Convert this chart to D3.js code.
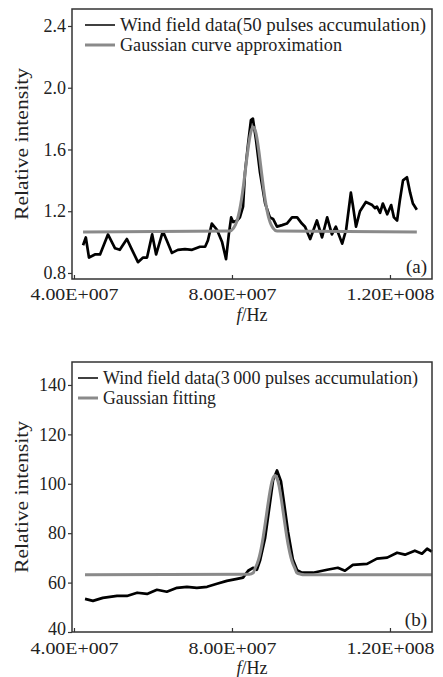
<!DOCTYPE html>
<html>
<head>
<meta charset="utf-8">
<script src="https://cdn.jsdelivr.net/npm/d3@7"></script>
<style>
  body { margin: 0; background: #fff; }
  svg { display: block; }
  svg text { font-family: "Liberation Serif", "Times New Roman", serif; }
</style>
</head>
<body>
<div id="chart"></div>
<script>
// Shared axis ticks
const xTicks = [4e7, 8e7, 1.2e8];
const yTicksA = [0.8, 1.2, 1.6, 2.0, 2.4];
const yTicksB = [40, 60, 80, 100, 120, 140];

// Panel (a): 50 pulses accumulation (frequency in MHz)
const freqA = [42.3, 43.0, 43.8, 45.3, 46.6, 48.6, 50.4, 51.6, 53.4, 54.7, 56.2, 57.5, 58.5, 59.8, 60.8,
    62.5, 63.5, 64.8, 66.3, 68.1, 69.9, 71.9, 73.2, 73.9, 74.9, 76.2, 77.5, 78.5, 79.2, 79.8, 80.3,
    81.3, 82.0, 82.8, 83.3, 84.1, 84.8, 85.3, 86.1, 87.1, 88.4, 89.6, 90.4, 91.4, 92.7, 93.9, 95.2,
    96.5, 97.7, 98.5, 99.8, 101.5, 102.8, 104.1, 105.3, 106.3, 107.9, 108.9, 110.1, 110.6, 111.4,
    112.4, 113.9, 115.5, 116.2, 116.7, 117.5, 118.2, 119.3, 120.3, 121.0, 121.8, 122.5, 123.3, 124.3,
    125.1, 125.8, 126.8];
const windA = [0.98, 1.03, 0.90, 0.92, 0.92, 1.05, 0.96, 0.95, 1.02, 0.95, 0.87, 0.90, 0.90, 1.05, 0.92,
    1.07, 1.01, 0.93, 0.95, 0.955, 0.95, 0.97, 0.97, 1.01, 1.12, 1.08, 1.00, 0.89, 1.05, 1.16, 1.13,
    1.14, 1.16, 1.23, 1.45, 1.64, 1.79, 1.80, 1.66, 1.45, 1.25, 1.16, 1.15, 1.10, 1.11, 1.12, 1.16,
    1.16, 1.12, 1.10, 1.02, 1.14, 1.03, 1.16, 1.05, 1.10, 0.99, 1.08, 1.32, 1.24, 1.10,
    1.20, 1.26, 1.24, 1.22, 1.23, 1.19, 1.25, 1.18, 1.24, 1.16, 1.14, 1.27, 1.40, 1.42,
    1.32, 1.25, 1.21];
const fitFreqA = [42.3, 79.4, 80.4, 80.9, 81.4, 81.9, 82.4, 82.9, 83.4, 83.9, 84.4, 84.9, 85.4,
    85.9, 86.4, 86.9, 87.4, 87.9, 88.4, 88.9, 89.4, 89.9, 90.4, 91.4, 126.8];
const fitA = [1.066, 1.072, 1.091, 1.113, 1.149, 1.202, 1.274, 1.365, 1.468, 1.572, 1.662, 1.724, 1.746,
    1.724, 1.662, 1.572, 1.468, 1.365, 1.274, 1.202, 1.149, 1.113, 1.091, 1.072, 1.066];

// Panel (b): 3000 pulses accumulation (frequency in MHz)
const freqB = [42.8, 44.8, 47.3, 50.9, 53.4, 56.0, 58.5, 61.0, 63.5, 66.1, 68.6, 71.1, 73.7, 76.2,
    78.7, 81.3, 82.8, 84.1, 85.3, 86.3, 87.1, 88.4, 89.6, 90.4, 91.4, 92.4, 93.2, 94.2, 95.4, 96.5,
    97.7, 100.5, 104.1, 106.8, 108.6, 110.6, 114.2, 116.7, 119.3, 121.8, 123.8, 126.3, 128.1, 129.4, 130.6];
const windB = [53.4, 52.6, 53.8, 54.6, 54.6, 55.9, 55.4, 57.1, 56.3, 57.9, 58.3, 57.9, 58.3, 59.5,
    60.7, 61.5, 62.0, 64.8, 66.0, 65.2, 68.9, 78.2, 92.0, 101.4, 105.4, 101.0, 92.0, 80.5, 69.5, 65.0,
    64.0, 64.0, 65.2, 66.0, 64.8, 67.2, 67.6, 69.7, 70.1, 72.1, 71.3, 72.9, 71.7, 73.7, 72.5];
const fitFreqB = [42.8, 84.4, 85.4, 85.9, 86.4, 86.9, 87.4, 87.9, 88.4, 88.9, 89.4, 89.9, 90.4, 90.9, 91.4,
    91.9, 92.4, 92.9, 93.4, 93.9, 94.4, 94.9, 95.4, 95.9, 96.4, 97.4, 98.4, 130.6];
const fitB = [63.2, 63.4, 64.0, 65.9, 67.7, 70.3, 73.9, 78.4, 83.7, 89.3, 94.7, 99.3, 102.3, 103.4, 102.3,
    99.3, 94.7, 89.3, 83.7, 78.4, 73.9, 70.3, 67.7, 65.9, 64.0, 63.4, 63.2, 63.2];

const W = 443, H = 677;
const FONT = '"Liberation Serif", "Times New Roman", serif';
const svg = d3.select('#chart').append('svg')
    .attr('width', W)
    .attr('height', H);

// Format like "4.00E+007"
function sciFormat(d) {
    const parts = d.toExponential(2).split('e');
    const exp = parseInt(parts[1], 10);
    return parts[0] + 'E' + (exp < 0 ? '-' : '+') + String(Math.abs(exp)).padStart(3, '0');
}

function drawPanel(opts) {
    const left = 72, right = 432;
    const top = opts.top, bottom = opts.bottom;

    const x = d3.scaleLinear().domain([39.5e6, 130.64e6]).range([left, right]);
    const y = d3.scaleLinear().domain(opts.yDomain).range([bottom, top]);

    const g = svg.append('g');

    // Data and fitted lines
    const line = d3.line()
        .x(d => x(d[0] * 1e6))
        .y(d => y(d[1]));

    const wind = opts.freq.map((f, i) => [f, opts.wind[i]]);
    const fit = opts.fitFreq.map((f, i) => [f, opts.fit[i]]);

    g.append('path')
        .datum(wind)
        .attr('fill', 'none')
        .attr('stroke', '#000')
        .attr('stroke-width', 2.7)
        .attr('stroke-linejoin', 'round')
        .attr('d', line);

    g.append('path')
        .datum(fit)
        .attr('fill', 'none')
        .attr('stroke', '#8a8a8a')
        .attr('stroke-width', 3)
        .attr('stroke-linejoin', 'round')
        .attr('d', line.curve(d3.curveMonotoneX));

    // Frame
    g.append('rect')
        .attr('x', left)
        .attr('y', top)
        .attr('width', right - left)
        .attr('height', bottom - top)
        .attr('fill', 'none')
        .attr('stroke', '#333')
        .attr('stroke-width', 1.5);

    // Y axis (ticks outward)
    const yAxis = g.append('g')
        .attr('transform', `translate(${left},0)`)
        .call(d3.axisLeft(y).tickValues(opts.yTicks).tickSize(4).tickPadding(2)
            .tickFormat(opts.yFormat));
    yAxis.select('.domain').remove();
    yAxis.selectAll('line').attr('stroke', '#333').attr('stroke-width', 1.2);
    yAxis.selectAll('text')
        .attr('font-family', FONT)
        .attr('font-size', 18)
        .attr('fill', '#222');
    // lowest label sits right on the frame corner; lift it a touch
    yAxis.selectAll('text').filter(d => d === opts.yTicks[0])
        .attr('dy', opts.lowDy);

    // X axis (ticks inward), labels a bit wider than plain Times
    const xAxis = g.append('g')
        .attr('transform', `translate(0,${bottom})`)
        .call(d3.axisBottom(x).tickValues(xTicks).tickSize(-4).tickPadding(opts.xPad)
            .tickFormat(sciFormat));
    xAxis.select('.domain').remove();
    xAxis.selectAll('line').attr('stroke', '#333').attr('stroke-width', 1.2);
    xAxis.selectAll('text')
        .attr('font-family', FONT)
        .attr('font-size', 17)
        .attr('textLength', 88)
        .attr('lengthAdjust', 'spacingAndGlyphs')
        .attr('fill', '#222');

    // Axis titles
    const xt = g.append('text')
        .attr('x', (left + right) / 2)
        .attr('y', opts.xTitleY)
        .attr('text-anchor', 'middle')
        .attr('font-family', FONT)
        .attr('font-size', 18)
        .attr('fill', '#222');
    xt.append('tspan').attr('font-style', 'italic').text('f');
    xt.append('tspan').text('/Hz');

    g.append('text')
        .attr('transform', `translate(28,${(top + bottom) / 2}) rotate(-90)`)
        .attr('text-anchor', 'middle')
        .attr('font-family', FONT)
        .attr('font-size', 19)
        .attr('textLength', 152)
        .attr('lengthAdjust', 'spacingAndGlyphs')
        .attr('fill', '#222')
        .text('Relative intensity');

    // Legend
    const lg = g.append('g');
    opts.legend.forEach((item, i) => {
        const ly = opts.legendY + i * 20;
        lg.append('line')
            .attr('x1', opts.legendX)
            .attr('x2', opts.legendX + opts.legendLen)
            .attr('y1', ly)
            .attr('y2', ly)
            .attr('stroke', item.color)
            .attr('stroke-width', item.width);
        lg.append('text')
            .attr('x', opts.legendX + opts.legendLen + 5)
            .attr('y', ly + 6)
            .attr('textLength', item.len)
            .attr('lengthAdjust', 'spacingAndGlyphs')
            .attr('font-family', FONT)
            .attr('font-size', 18.5)
            .attr('fill', '#222')
            .text(item.label);
    });

    // Panel tag
    g.append('text')
        .attr('x', right - 5)
        .attr('y', bottom - 6)
        .attr('text-anchor', 'end')
        .attr('font-family', FONT)
        .attr('font-size', 19)
        .attr('fill', '#222')
        .text(opts.tag);
}

drawPanel({
    top: 9, bottom: 279,
    yDomain: [0.761, 2.51],
    yTicks: yTicksA,
    yFormat: d3.format('.1f'),
    lowDy: '0.32em',
    freq: freqA, wind: windA, fitFreq: fitFreqA, fit: fitA,
    xPad: 9, xTitleY: 321,
    legendX: 85, legendLen: 30, legendY: 25,
    legend: [
        { label: 'Wind field data(50 pulses accumulation)', color: '#000', width: 1.5, len: 306 },
        { label: 'Gaussian curve approximation', color: '#8a8a8a', width: 3, len: 222 }
    ],
    tag: '(a)'
});

drawPanel({
    top: 362, bottom: 632,
    yDomain: [40, 149.3],
    yTicks: yTicksB,
    yFormat: d3.format('d'),
    lowDy: '0.15em',
    freq: freqB, wind: windB, fitFreq: fitFreqB, fit: fitB,
    xPad: 10, xTitleY: 674,
    legendX: 78, legendLen: 20, legendY: 378,
    legend: [
        { label: 'Wind field data(3\u2009000 pulses accumulation)', color: '#000', width: 1.5, len: 315 },
        { label: 'Gaussian fitting', color: '#8a8a8a', width: 3, len: 113 }
    ],
    tag: '(b)'
});
</script>
</body>
</html>
